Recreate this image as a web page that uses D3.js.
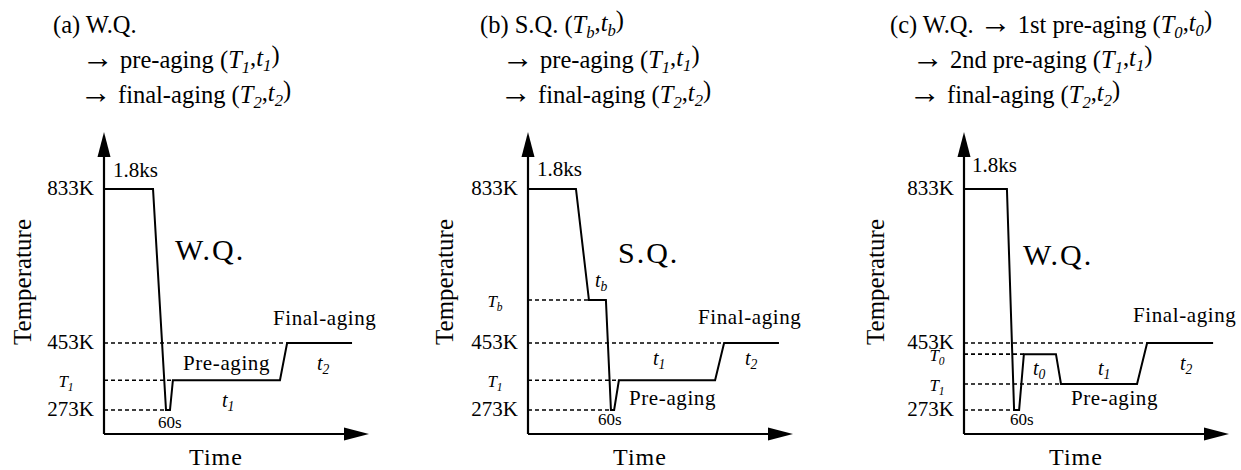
<!DOCTYPE html>
<html><head><meta charset="utf-8">
<script src="https://cdn.jsdelivr.net/npm/d3@7"></script>
<style>
body{margin:0;background:#fff}
</style></head><body>
<svg id="chart" width="1241" height="470" font-family="'Liberation Serif', 'DejaVu Serif', serif"></svg>
<script>
// Temperature levels written on every vertical axis
const tempTicks = [273, 453, 833];
const tempTickLabels = ["273K", "453K", "833K"];

// (a) W.Q. -> pre-aging -> final-aging  (time in schematic units 0..100)
const timeA = [0, 18.5, 23.4, 24.9, 26.0, 66.4, 69.1, 93.6];
const tempA = [833, 833, 273, 273, 353, 353, 453, 453];
const symTempA = [353];
const symSubA = ["1"];

// (b) S.Q. (Tb, tb) -> pre-aging -> final-aging
const timeB = [0, 18.1, 23.0, 29.4, 31.3, 32.5, 34.3, 70.6, 74.0, 94.7];
const tempB = [833, 833, 559, 559, 273, 273, 353, 353, 453, 453];
const symTempB = [559, 353];
const symSubB = ["b", "1"];

// (c) W.Q. -> 1st pre-aging -> 2nd pre-aging -> final-aging
const timeC = [0, 16.2, 18.9, 20.8, 22.6, 34.7, 36.6, 65.3, 69.1, 94.0];
const tempC = [833, 833, 273, 273, 423, 423, 343, 343, 453, 453];
const symTempC = [423, 343];
const symSubC = ["0", "1"];

// Heading lines; {X|s} is an italic symbol X with subscript s
const titleA = ["(a) W.Q.", "→ pre-aging ({T|1},{t|1})", "→ final-aging ({T|2},{t|2})"];
const titleB = ["(b) S.Q. ({T|b},{t|b})", "→ pre-aging ({T|1},{t|1})", "→ final-aging ({T|2},{t|2})"];
const titleC = ["(c) W.Q. → 1st pre-aging ({T|0},{t|0})", "→ 2nd pre-aging ({T|1},{t|1})", "→ final-aging ({T|2},{t|2})"];

// Text written inside each diagram
const notesA = ["1.8ks", "W.Q.", "Final-aging", "Pre-aging", "{t|2}", "{t|1}", "60s"];
const notesB = ["1.8ks", "S.Q.", "{t|b}", "Final-aging", "{t|1}", "{t|2}", "Pre-aging", "60s"];
const notesC = ["1.8ks", "W.Q.", "Final-aging", "{t|0}", "{t|1}", "{t|2}", "Pre-aging", "60s"];

// ---- layout ----
const axisBottom = 434, axisTop = 132, arrowLen = 25, arrowHalf = 6.5;
const xSpan = 265;
const y = d3.scaleLinear().domain([273, 453, 833]).range([410, 343, 189]);

const styles = {
  small: {size: 21, ls: 0},
  aging: {size: 21, ls: 0.6},
  big: {size: 30, ls: 2},
  sym: {size: 20, ls: 0},
  tiny: {size: 17, ls: 0}
};
const panels = [
  {ox: 104, profile: [timeA, tempA], sym: [symTempA, symSubA], symX: -38, title: titleA,
   titlePos: [[-51, 33], [-22, 68], [-24, 103]], notes: notesA,
   notePos: [[9,177,"small"],[71,260,"big"],[169,325,"aging"],[79,370,"aging"],[213,370,"sym"],[118,407,"sym"],[54,428,"tiny"]],
   tempLabelX: -73},
  {ox: 528, profile: [timeB, tempB], sym: [symTempB, symSubB], symX: -33, title: titleB,
   titlePos: [[-48, 33], [-26, 68], [-28, 103]], notes: notesB,
   notePos: [[9,176,"small"],[90,263,"big"],[67,287,"sym"],[170,324,"aging"],[125,365,"sym"],[217,365,"sym"],[101,405,"aging"],[70,425,"tiny"]],
   tempLabelX: -75},
  {ox: 964, profile: [timeC, tempC], sym: [symTempC, symSubC], symX: -27, title: titleC,
   titlePos: [[-74, 33], [-52, 68], [-55, 103]], notes: notesC,
   notePos: [[8,172,"small"],[59,265,"big"],[169,322,"aging"],[69,375,"sym"],[134,375,"sym"],[216,370,"sym"],[107,405,"aging"],[46,425,"tiny"]],
   tempLabelX: -80}
];

const svg = d3.select("#chart");

// writes a string with {X|s} symbols as tspans into a text element;
// arrows are set a little larger so they read like the long typeset arrow
function rich(textSel, str) {
  const parts = str.split(/(\{[^}|]+\|[^}]+\}|→)/).filter(s => s.length);
  let shifted = false;
  parts.forEach(p => {
    const m = p.match(/^\{([^|]+)\|([^}]+)\}$/);
    if (m) {
      textSel.append("tspan").attr("font-style", "italic")
        .attr("dy", shifted ? "-0.3em" : null).text(m[1]);
      textSel.append("tspan").attr("font-style", "italic")
        .attr("font-size", "68%").attr("dy", "0.3em").text(m[2]);
      shifted = true;
    } else if (p === "→") {
      textSel.append("tspan").attr("dy", shifted ? "-0.3em" : null)
        .attr("font-size", "130%").text(p);
      shifted = false;
    } else {
      textSel.append("tspan").attr("dy", shifted ? "-0.3em" : null).text(p);
      shifted = false;
    }
  });
}

panels.forEach(p => {
  const g = svg.append("g");
  const x = d3.scaleLinear().domain([0, 100]).range([p.ox, p.ox + xSpan]);
  const [times, temps] = p.profile;
  const pts = times.map((t, i) => [t, temps[i]]);

  // heading
  p.title.forEach((line, i) => {
    const t = g.append("text").attr("x", p.ox + p.titlePos[i][0]).attr("y", p.titlePos[i][1])
      .attr("font-size", 24.5);
    rich(t, line);
  });

  // dashed guides from the axis to where the schedule first reaches each level
  const levels = tempTicks.filter(v => v !== 833).concat(p.sym[0]);
  levels.forEach(v => {
    const idx = temps.findIndex((tv, i) => i > 0 && tv === v);
    if (idx < 0) return;
    g.append("line").attr("x1", x(0)).attr("x2", x(times[idx]))
      .attr("y1", y(v)).attr("y2", y(v))
      .attr("stroke", "#000").attr("stroke-width", 1.6).attr("stroke-dasharray", "4,3");
  });

  // axes with arrowheads
  g.append("line").attr("x1", x(0)).attr("x2", x(0)).attr("y1", axisBottom).attr("y2", axisTop + arrowLen - 2)
    .attr("stroke", "#000").attr("stroke-width", 2.2);
  g.append("line").attr("x1", x(0)).attr("x2", x(100) - arrowLen + 2).attr("y1", axisBottom).attr("y2", axisBottom)
    .attr("stroke", "#000").attr("stroke-width", 2.2);
  g.append("path").attr("d", `M${x(0)},${axisTop}L${x(0) - arrowHalf},${axisTop + arrowLen}L${x(0) + arrowHalf},${axisTop + arrowLen}Z`);
  g.append("path").attr("d", `M${x(100)},${axisBottom}L${x(100) - arrowLen},${axisBottom - arrowHalf}L${x(100) - arrowLen},${axisBottom + arrowHalf}Z`);

  // heat-treatment schedule
  g.append("path").datum(pts)
    .attr("d", d3.line().x(d => x(d[0])).y(d => y(d[1])))
    .attr("fill", "none").attr("stroke", "#000").attr("stroke-width", 2).attr("stroke-linejoin", "miter");

  // temperature labels
  tempTicks.forEach((v, i) => {
    g.append("text").attr("x", x(0) - 10).attr("y", y(v)).attr("dy", "0.3em")
      .attr("text-anchor", "end").attr("font-size", 21).text(tempTickLabels[i]);
  });
  p.sym[0].forEach((v, i) => {
    const t = g.append("text").attr("x", x(0) + p.symX).attr("y", y(v)).attr("dy", "0.42em")
      .attr("text-anchor", "middle").attr("font-size", 17);
    rich(t, `{T|${p.sym[1][i]}}`);
  });

  // axis titles
  g.append("text").attr("x", p.ox + 112).attr("y", 465).attr("text-anchor", "middle")
    .attr("font-size", 24).attr("letter-spacing", 1).text("Time");
  g.append("text").attr("transform", `translate(${p.ox + p.tempLabelX},282) rotate(-90)`)
    .attr("text-anchor", "middle").attr("font-size", 25).text("Temperature");

  // notes
  p.notes.forEach((s, i) => {
    const [dx, by, kind] = p.notePos[i];
    const st = styles[kind];
    const t = g.append("text").attr("x", p.ox + dx).attr("y", by)
      .attr("font-size", st.size).attr("letter-spacing", st.ls);
    rich(t, s);
  });
});
</script>
</body></html>
